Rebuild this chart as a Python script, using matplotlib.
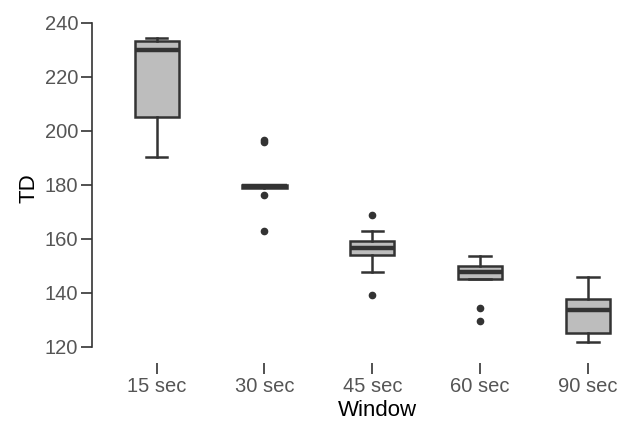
import matplotlib
matplotlib.use('Agg')
import matplotlib.pyplot as plt

# Boxplot summary (TD by window size)
windows = ['15 sec', '30 sec', '45 sec', '60 sec', '90 sec']
whislo = [190.4, 179.0, 147.8, 145.1, 121.6]
q1 = [205.2, 178.9, 154.1, 145.1, 125.1]
med = [230.0, 179.4, 156.5, 147.7, 133.5]
q3 = [233.3, 179.9, 159.0, 149.8, 137.7]
whishi = [234.4, 179.9, 162.7, 153.7, 145.7]
outliers = [[], [196.7, 195.7, 176.0, 163.0], [168.6, 139.0], [134.3, 129.4], []]

plt.rcParams['font.family'] = ['Liberation Sans', 'DejaVu Sans']

stats = []
for i, name in enumerate(windows):
    stats.append({
        'label': name,
        'whislo': whislo[i], 'q1': q1[i], 'med': med[i],
        'q3': q3[i], 'whishi': whishi[i], 'fliers': outliers[i],
    })

fig = plt.figure(figsize=(6.21, 4.22), dpi=100)
ax = fig.add_axes([0.148, 0.14, 0.851, 0.813])

edge = '#333333'
ax.bxp(stats, positions=range(1, 6), widths=0.41, patch_artist=True,
       boxprops=dict(facecolor='#bdbdbd', edgecolor=edge, linewidth=1.8),
       medianprops=dict(color=edge, linewidth=3.2),
       whiskerprops=dict(color=edge, linewidth=1.8),
       capprops=dict(color=edge, linewidth=1.8),
       capwidths=0.2,
       flierprops=dict(marker='o', markersize=4.5, markerfacecolor=edge,
                       markeredgecolor=edge))

ax.set_xlim(0.4, 5.3)
ax.set_ylim(114, 241)
ax.set_yticks([120, 140, 160, 180, 200, 220, 240])
ax.spines['left'].set_bounds(120, 240)
ax.spines['left'].set_color(edge)
ax.spines['left'].set_linewidth(1.2)
for s in ['top', 'right', 'bottom']:
    ax.spines[s].set_visible(False)

ax.tick_params(axis='y', length=8, width=1.2, color=edge, labelsize=14.5,
               labelcolor='#555555', pad=2)
ax.tick_params(axis='x', length=8, width=1.2, color=edge, labelsize=14.5,
               labelcolor='#555555', pad=2)

ax.set_xlabel('Window', fontsize=16)
ax.set_ylabel('TD', fontsize=16)
ax.xaxis.set_label_coords(0.54, -0.108)
ax.yaxis.set_label_coords(-0.1, 0.51)

fig.savefig('out.png', dpi=100, facecolor='white')
